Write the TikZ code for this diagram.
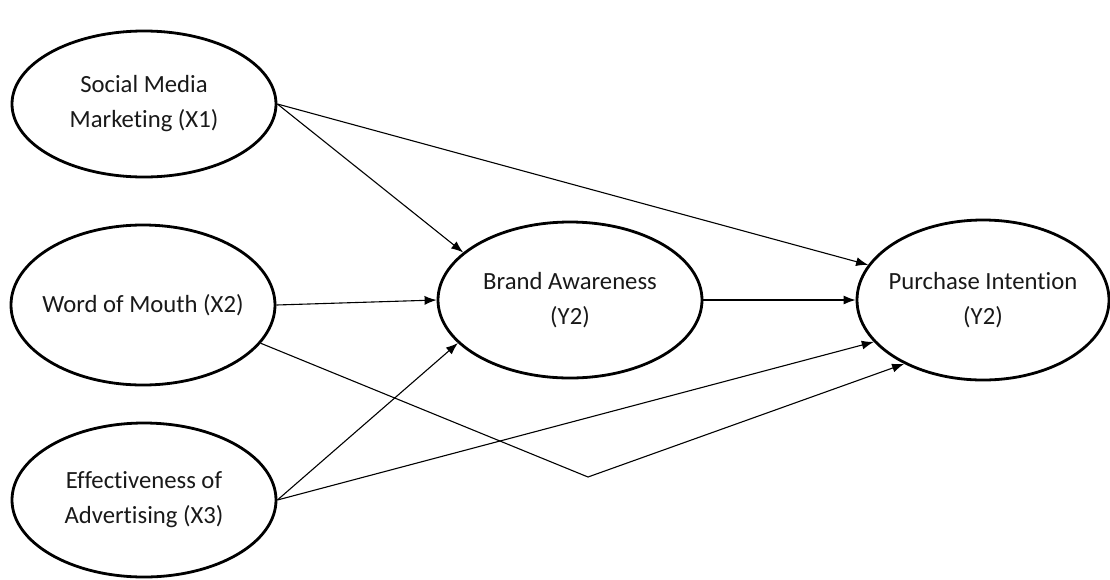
\documentclass[tikz,border=0pt]{standalone}
\usepackage{fontspec}
\setmainfont{Carlito}[Ligatures = NoCommon]
\usetikzlibrary{arrows.meta}
\usetikzlibrary{shapes.geometric}
\tikzset{
  > = {Latex[length=12pt,width=9pt]},
  construct/.style = {ellipse,
                      draw,
                      line width = 2.8pt,
                      align = center,
                      minimum width = 264pt,
                      minimum height = 156pt,
                      inner xsep = -30pt,
                      inner ysep = 0pt,
                      text = black!90,
                      font = \fontsize{24.7}{35}\selectfont},
  link/.style = {->,
                 line width = 1.1pt}
}

\begin{document}
\begin{tikzpicture}[x = 1pt, y = -1pt]

\useasboundingbox (0,0) rectangle (1110,579);

\node[construct, minimum height = 146pt](smm) at (144,104) {Social Media\\Marketing (X1)};
\node[construct, minimum height = 160pt](wom) at (143,305) {Word of Mouth (X2)};
\node[construct, minimum height = 154pt](eoa) at (144,500) {Effectiveness of\\Advertising (X3)};

\node[construct](ba) at (570,300) {Brand Awareness\\(Y2)};
\node[construct, minimum width = 252pt, minimum height = 160pt](pi) at (983,300) {Purchase Intention\\(Y2)};

\coordinate (bend) at (588,477);

% paths into brand awareness
\draw[link] (smm.east) -- (ba.156);
\draw[link] (wom.east) -- (ba.west);
\draw[link] (eoa.east) -- (ba.201);

% paths into purchase intention
\draw[link] (smm.east) -- (pi.163);
\draw[link] (ba.east) -- (pi.west);
\draw[link] (eoa.east) -- (pi.201);
\draw[link] (wom.-18) -- (bend) -- (pi.219);

\end{tikzpicture}
\end{document}
